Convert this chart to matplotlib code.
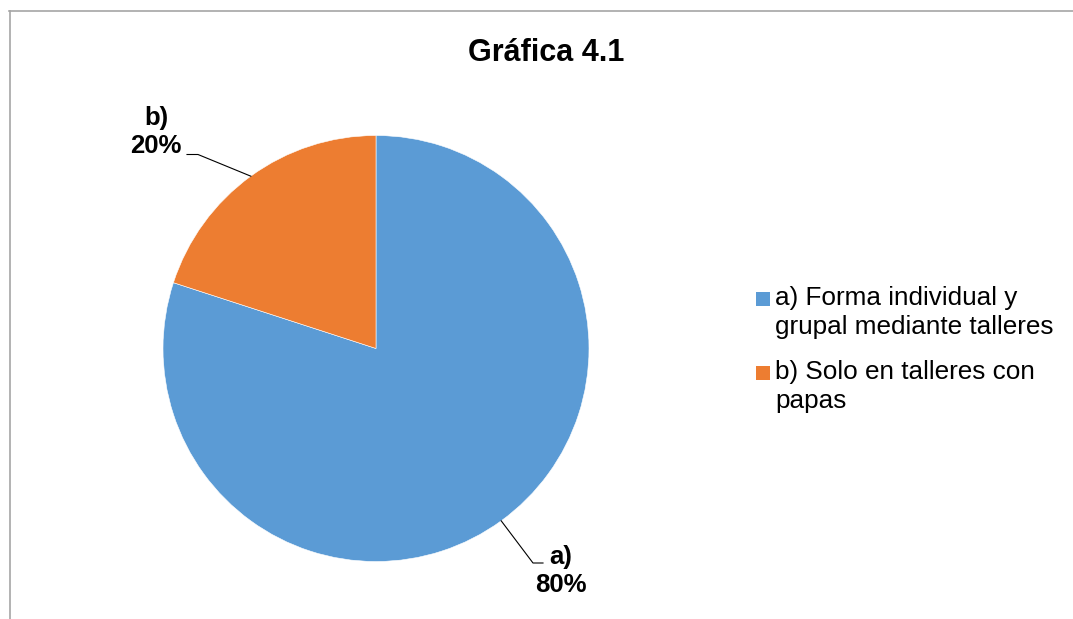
import matplotlib
matplotlib.use("Agg")
import matplotlib.pyplot as plt
from matplotlib.lines import Line2D
from matplotlib.patches import Rectangle
from matplotlib.legend_handler import HandlerPatch
import numpy as np

plt.rcParams['font.family'] = ['Liberation Sans', 'DejaVu Sans']

title = "Gráfica 4.1"
categories = ["a) Forma individual y\ngrupal mediante talleres",
              "b) Solo en talleres con\npapas"]
short_labels = ["a)", "b)"]
values = [80, 20]
colors = ["#5B9BD5", "#ED7D31"]

W, H = 1073, 619
fig = plt.figure(figsize=(W / 100, H / 100), dpi=100)

# chart frame (partial, as cropped in reference)
fig.add_artist(Line2D([9 / W, 1.0], [1 - 10.5 / H, 1 - 10.5 / H], transform=fig.transFigure,
                      color="#a6a6a6", lw=1.2))
fig.add_artist(Line2D([9.5 / W, 9.5 / W], [1 - 10.5 / H, 0.0], transform=fig.transFigure,
                      color="#a6a6a6", lw=1.2))

cx, cy, r = 376, 348.5, 213
ax = fig.add_axes([(cx - r) / W, (H - cy - r) / H, 2 * r / W, 2 * r / H])
wedges, _ = ax.pie(values, colors=colors, startangle=90, counterclock=False, radius=1,
                   wedgeprops=dict(edgecolor="white", linewidth=0.4))
ax.set_xlim(-1, 1)
ax.set_ylim(-1, 1)
ax.set_aspect("equal")
ax.axis("off")


def px(x, y):
    return ((x - cx) / r, (cy - y) / r)


# label geometry (pixel positions of elbows and text centres)
label_pos = {0: dict(elbow=(533, 563), end=(543, 563), text=(561, 571)),
             1: dict(elbow=(198, 154.5), end=(187, 154.5), text=(156, 132))}

total = sum(values)
for i, w in enumerate(wedges):
    ang = np.deg2rad((w.theta1 + w.theta2) / 2)
    ex, ey = np.cos(ang), np.sin(ang)
    g = label_pos[i]
    ax.plot([ex, px(*g["elbow"])[0], px(*g["end"])[0]],
            [ey, px(*g["elbow"])[1], px(*g["end"])[1]],
            color="black", lw=0.8, clip_on=False)
    tx, ty = px(*g["text"])
    ax.text(tx, ty, f"{short_labels[i]}\n{values[i] / total * 100:.0f}%", ha="center", va="center",
            multialignment="center", fontsize=18.5, fontweight="bold", linespacing=1.2,
            clip_on=False)

fig.text(546 / W, 1 - 53 / H, title, ha="center", va="center", fontsize=22, fontweight="bold")


class TopSquare(HandlerPatch):
    def create_artists(self, legend, orig_handle, xdescent, ydescent, width, height, fontsize, trans):
        s = 10.0
        p = Rectangle((-xdescent + width - s, -ydescent + height / 2 - s / 2 + 10.0), s, s,
                      facecolor=orig_handle.get_facecolor(), edgecolor="none", transform=trans)
        return [p]


leg = fig.legend(wedges, categories, loc="upper left", bbox_to_anchor=(756 / W, 1 - 286 / H),
                 frameon=False, fontsize=18.8, handlelength=0.53, handleheight=0.53,
                 handletextpad=0.2, labelspacing=0.82, borderpad=0, borderaxespad=0,
                 handler_map={w: TopSquare() for w in wedges})
for t in leg.get_texts():
    t.set_linespacing(1.25)

fig.savefig("out.png", dpi=100)
